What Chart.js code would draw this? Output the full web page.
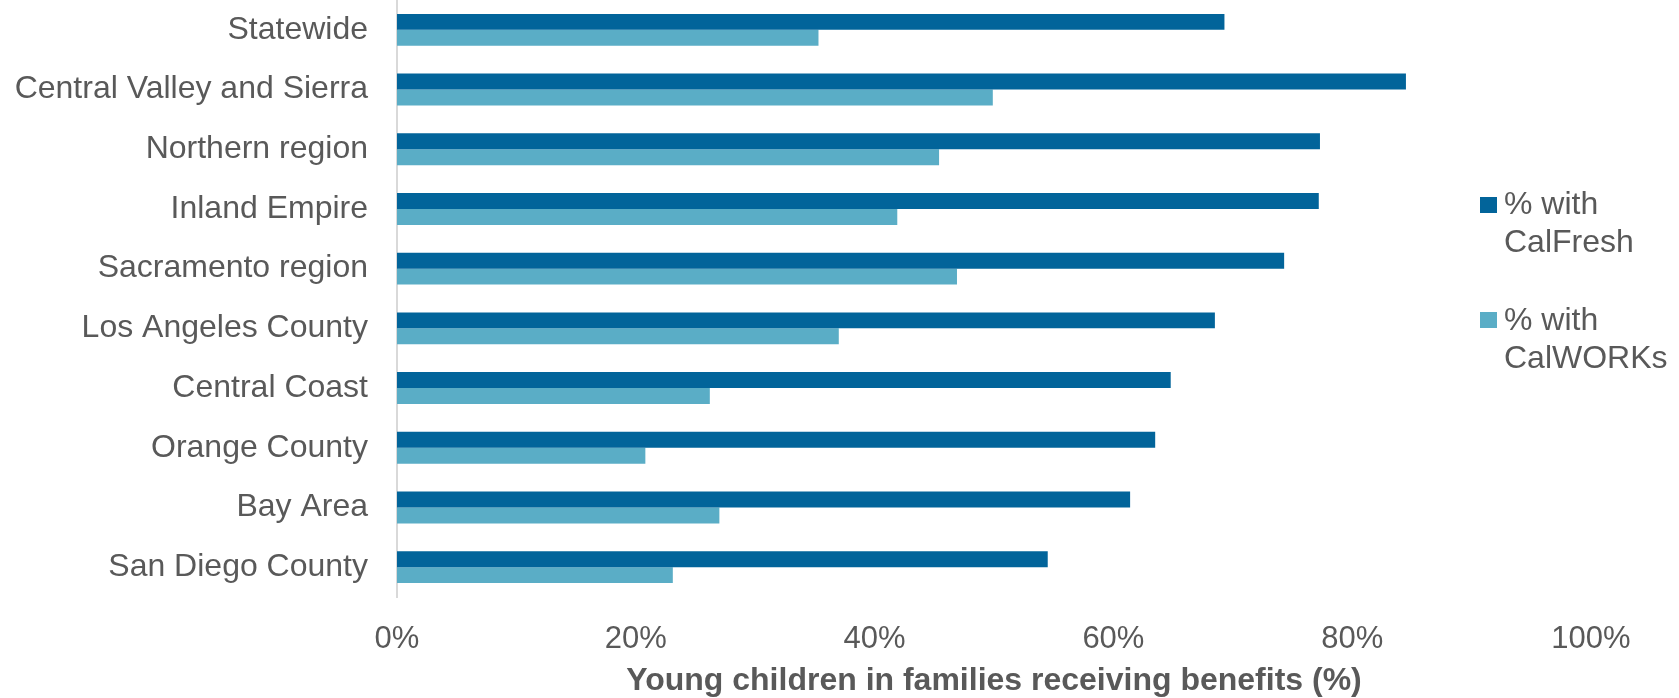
<!DOCTYPE html>
<html>
<head>
<meta charset="utf-8">
<script src="https://cdn.jsdelivr.net/npm/chart.js@4.4.1/dist/chart.umd.min.js"></script>
<style>
    body { margin: 0; background: #fff; font-family: 'Liberation Sans', Arial, sans-serif; }
    #wrap { position: relative; width: 1679px; height: 698px; }
    .legend-item { position: absolute; left: 1480px; color: #595959; font-size: 32px; line-height: 38px; }
    .legend-item .box { position: absolute; left: 0; width: 17px; height: 16px; }
    .legend-item .label { position: absolute; left: 24px; white-space: nowrap; }
</style>
</head>
<body>
<div id="wrap">
    <canvas id="chart"></canvas>
    <div class="legend-item" style="top:184px">
        <div class="box" style="top:13px;background:#02649A"></div>
        <div class="label">% with<br>CalFresh</div>
    </div>
    <div class="legend-item" style="top:300px">
        <div class="box" style="top:12px;background:#5AADC6"></div>
        <div class="label">% with<br>CalWORKs</div>
    </div>
</div>
<script>
const regions = [
    'Statewide', 'Central Valley and Sierra', 'Northern region', 'Inland Empire',
    'Sacramento region', 'Los Angeles County', 'Central Coast', 'Orange County',
    'Bay Area', 'San Diego County'
];
const calFresh = [69.3, 84.5, 77.3, 77.2, 74.3, 68.5, 64.8, 63.5, 61.4, 54.5];
const calWorks = [35.3, 49.9, 45.4, 41.9, 46.9, 37.0, 26.2, 20.8, 27.0, 23.1];
const xTicks = [0, 20, 40, 60, 80, 100];

document.addEventListener('DOMContentLoaded', () => {
    const textColor = '#595959';
    const family = "'Liberation Sans', Arial, sans-serif";

    // drop the extra room chart.js keeps for half-labels at the axis ends
    const noEdgePadding = (scale) => {
        scale.paddingTop = 0;
        scale.paddingBottom = 0;
        scale.paddingLeft = 0;
        scale.paddingRight = 0;
    };

    const data = {
        labels: regions,
        datasets: [{
            label: '% with CalFresh',
            data: calFresh,
            backgroundColor: '#02649A',
            categoryPercentage: 0.535,
            barPercentage: 1
        }, {
            label: '% with CalWORKs',
            data: calWorks,
            backgroundColor: '#5AADC6',
            categoryPercentage: 0.535,
            barPercentage: 1
        }]
    };

    const config = {
        type: 'bar',
        data: data,
        options: {
            indexAxis: 'y',
            responsive: true,
            maintainAspectRatio: false,
            animation: false,
            layout: { padding: { left: 0, right: 88, top: 0, bottom: 0 } },
            plugins: {
                legend: { display: false },
                tooltip: { enabled: false }
            },
            scales: {
                x: {
                    min: 0,
                    max: 100,
                    afterBuildTicks: (scale) => {
                        scale.ticks = xTicks.map(v => ({ value: v }));
                    },
                    afterFit: (scale) => {
                        noEdgePadding(scale);
                        scale.height = 101;
                    },
                    grid: { display: false, drawTicks: false },
                    border: { display: false },
                    ticks: {
                        color: textColor,
                        padding: 27,
                        font: { family: family, size: 31, lineHeight: 1 },
                        callback: (v) => v + '%'
                    },
                    title: {
                        display: true,
                        text: 'Young children in families receiving benefits (%)',
                        color: textColor,
                        font: { family: family, size: 32, weight: 'bold', lineHeight: 1 },
                        padding: { top: 5, bottom: 1 }
                    }
                },
                y: {
                    afterFit: (scale) => {
                        noEdgePadding(scale);
                        scale.width = 397;
                    },
                    grid: { display: false, drawTicks: false },
                    border: { display: true, color: '#D9D9D9', width: 2 },
                    ticks: {
                        color: textColor,
                        padding: 29,
                        font: { family: family, size: 32 }
                    }
                }
            }
        }
    };

    const ctx = document.getElementById('chart').getContext('2d');
    new Chart(ctx, config);
});
</script>
</body>
</html>
